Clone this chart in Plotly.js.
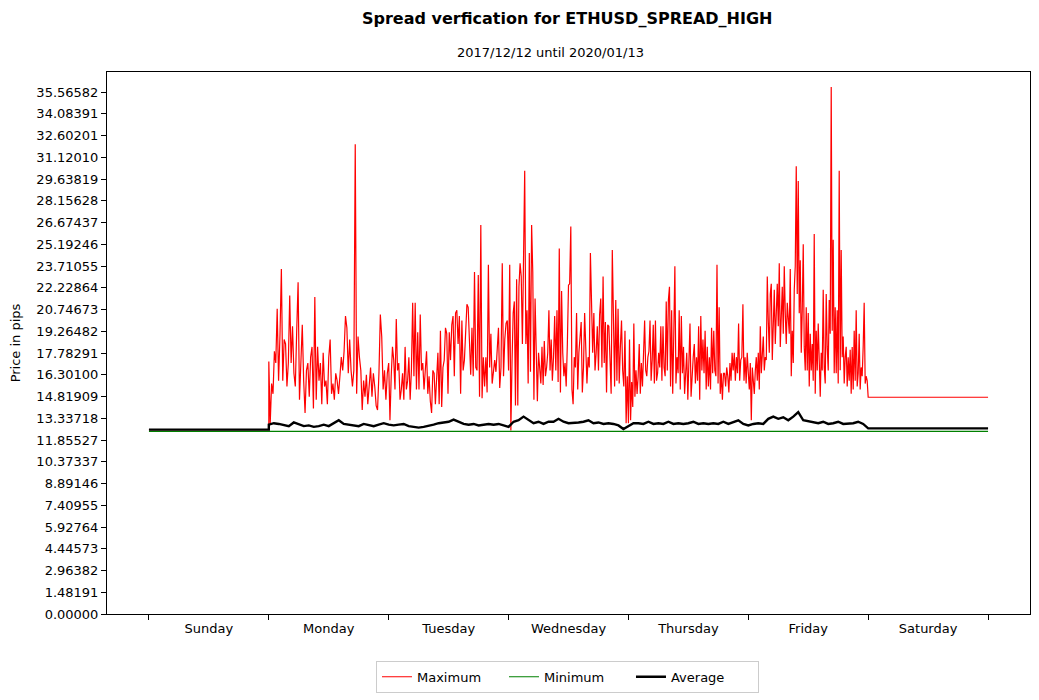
<!DOCTYPE html>
<html>
<head>
<meta charset="utf-8">
<script src="https://cdn.plot.ly/plotly-3.0.1.min.js"></script>
<style>
  body { margin: 0; background: #fff; }
  #spread_plot { width: 1039px; height: 700px; }
</style>
</head>
<body>
<div id="spread_plot"></div>
<script>
// jours de la semaine (axe x en heures, dimanche 0h -> samedi 24h)
let day_names = ['Sunday', 'Monday', 'Tuesday', 'Wednesday', 'Thursday', 'Friday', 'Saturday'];

let y_tick_labels = ['0.00000', '1.48191', '2.96382', '4.44573', '5.92764', '7.40955', '8.89146',
  '10.37337', '11.85527', '13.33718', '14.81909', '16.30100', '17.78291', '19.26482', '20.74673',
  '22.22864', '23.71055', '25.19246', '26.67437', '28.15628', '29.63819', '31.12010', '32.60201',
  '34.08391', '35.56582'];

// week-end : valeurs plates
let sunday_max = 12.56;
let sunday_avg = 12.56;
let saturday_max = 14.77;
let saturday_avg = 12.65;
let minimum_value = 12.45;

// maximum, relevé sur chaque jour ouvré
let max_monday = [17.2, 13.0, 15.7, 15.0, 17.9, 17.1, 20.8, 15.9, 19.0, 23.5,
  15.9, 18.7, 18.4, 15.5, 17.1, 21.7, 17.1, 19.6, 16.4, 15.5,
  19.3, 22.6, 14.6, 17.8, 19.7, 15.9, 13.7, 16.6, 17.1, 14.8,
  17.5, 18.2, 14.0, 21.6, 14.6, 18.2, 15.9, 17.1, 14.3, 17.8,
  15.5, 15.9, 14.3, 17.5, 18.7, 15.0, 15.7, 14.6, 16.4, 15.9,
  15.0, 16.2, 17.5, 16.6, 17.9, 20.3, 19.5, 16.4, 18.7, 16.6,
  15.5, 16.6, 32.0, 15.0, 18.9, 17.5, 16.6, 13.9, 15.9, 14.8,
  16.3, 14.3, 15.9, 16.8, 14.8, 16.4, 15.5, 14.2, 13.9, 16.4,
  20.4, 18.9, 15.3, 16.6, 14.6, 16.4];

let max_tuesday = [17.1, 13.2, 16.2, 18.2, 17.3, 15.3, 20.1, 16.6, 17.1, 14.6, 15.3, 16.4, 14.6, 18.2, 15.3, 15.9,
  17.5, 14.6, 16.6, 21.2, 16.2, 21.2, 15.3, 19.2, 15.3, 20.4,
  16.6, 17.1, 15.3, 16.4, 17.9, 15.0, 16.2, 14.5, 13.7, 16.6,
  16.4, 14.3, 16.4, 17.8, 14.3, 19.3, 14.1, 16.8, 17.3, 19.5,
  19.1, 15.0, 19.2, 17.3, 19.7, 20.3, 16.2, 20.5, 20.7, 18.4,
  20.3, 15.0, 20.0, 16.6, 17.3, 18.9, 21.1, 20.9, 18.4, 16.3,
  19.5, 16.2, 23.3, 16.8, 16.6, 23.1, 14.8, 26.5, 14.7, 17.5,
  15.5, 17.5, 15.1, 23.8, 16.8, 19.1, 15.7, 16.6, 17.3, 16.5,
  18.1, 19.5, 15.4, 16.8, 23.9, 16.2, 18.7, 19.8, 20.0];

let max_wednesday = [16.6, 23.8, 12.5, 17.1, 20.5, 21.3, 14.2, 22.8, 14.2, 22.3,
  23.9, 23.0, 18.4, 24.3, 30.2, 18.4, 20.7, 15.7, 24.6, 16.5,
  26.5, 23.3, 14.6, 21.5, 16.4, 14.5, 17.8, 16.8, 15.7, 18.2,
  15.6, 18.6, 16.2, 16.8, 17.8, 20.7, 16.6, 18.7, 15.9, 17.5,
  20.3, 16.6,
  20.7, 15.8, 24.9, 15.1, 22.0, 17.8, 16.2, 17.1, 15.5, 18.4,
  22.4, 22.5, 26.4, 15.3, 14.3, 17.5, 16.8, 20.5, 15.3, 17.8,
  19.1, 19.9, 15.1, 16.8, 20.5, 17.5, 15.7, 17.5, 16.8, 24.6,
  22.0, 17.8, 20.5, 16.6, 17.8, 19.6, 16.6, 20.4, 21.5, 16.8,
  23.0, 17.1, 19.9, 15.1, 19.7, 19.6, 17.4, 15.0, 24.8, 20.7,
  15.5, 21.4, 15.9, 20.8, 15.7, 18.2, 20.0, 16.6, 15.5, 19.3,
  13.0, 16.2];

let max_thursday = [13.0, 18.7, 13.2, 15.8, 14.1, 19.8, 14.8, 16.6, 15.0, 16.2,
  18.4, 15.0, 17.1, 15.5, 18.4, 20.0, 16.6, 16.2, 17.5, 17.9,
  20.0, 15.9, 17.3, 19.7, 15.7, 20.0, 15.9, 16.4, 17.8, 16.8,
  19.6, 15.9, 19.6, 16.8, 16.2, 21.3, 16.6, 21.4, 22.3, 15.5,
  20.7, 15.0, 19.1, 23.7, 15.7, 17.5, 16.4, 20.7, 15.3, 20.3,
  16.4, 18.2, 15.0, 16.6, 17.8, 14.6, 18.4, 19.8, 14.8, 16.4,
  17.5, 18.4, 15.7, 17.5, 15.9, 19.6, 14.6, 20.3, 16.6, 18.7,
  16.4, 19.3, 15.3,
  18.2, 15.5, 17.5, 15.3, 19.5, 16.4, 19.3, 16.6, 16.2, 23.8,
  15.7, 20.9, 15.0, 16.4, 14.6, 16.4, 16.4, 15.5, 16.8, 16.2,
  15.1, 17.1, 15.9, 17.8, 16.6, 17.8, 15.9, 17.5, 16.4, 19.8,
  15.9, 17.3, 17.5, 21.1, 15.9, 17.5, 15.7, 17.8];

let max_friday = [16.4, 15.3, 17.1, 13.2, 16.8, 15.5, 15.0, 16.6, 17.5, 15.9,
  17.8, 15.3, 19.6, 16.4, 17.8, 18.9, 16.6, 17.5, 17.3, 23.0,
  20.0, 17.8, 21.8, 22.5, 17.3, 20.7, 22.1, 18.4, 21.6, 22.5,
  19.6, 23.9, 18.2, 20.7, 22.3, 19.1, 23.7, 20.5, 18.4, 21.2,
  20.0, 19.1, 23.5, 16.2, 19.3, 17.1, 22.1, 23.7, 30.5, 21.8,
  29.5, 20.5, 24.1, 17.8, 20.7, 25.2, 18.2, 16.6, 20.9, 16.6,
  20.5, 15.5, 19.1, 16.6, 18.4, 15.9, 25.9, 15.0, 19.3, 16.6,
  19.8, 16.4, 14.8, 17.8, 16.6, 22.1, 16.8, 15.7, 21.8, 18.2,
  16.6, 21.4, 19.1, 35.9, 19.3, 25.5, 16.4, 20.9, 16.4, 20.7,
  15.7, 30.2, 16.6, 24.8, 17.5, 18.9, 15.7, 17.5, 18.2, 15.5,
  17.5, 15.9, 18.0, 15.0, 18.2, 15.3, 19.3, 15.9, 20.7, 15.5,
  16.4, 19.1, 15.3, 16.8, 16.2, 18.2, 21.2, 15.7, 16.2, 15.9];

// moyenne, une valeur par heure
let avg_monday = [12.9, 13.0, 12.95, 12.85, 12.8, 13.05, 12.9, 12.8, 12.85, 12.75, 12.8, 12.9,
  12.8, 13.0, 13.2, 12.95, 12.9, 12.85, 12.8, 12.95, 12.85, 12.8, 12.9, 13.0];
let avg_tuesday = [12.9, 12.85, 12.9, 12.95, 12.8, 12.75, 12.7, 12.75, 12.8, 12.9, 13.0, 13.05,
  13.1, 13.25, 13.1, 12.95, 12.9, 12.95, 12.85, 12.9, 12.95, 12.9, 12.95, 12.85];
let avg_wednesday = [12.75, 13.1, 13.2, 13.45, 13.2, 13.0, 13.1, 12.95, 13.1, 13.1, 13.3, 13.1,
  13.0, 13.0, 13.05, 13.1, 13.2, 13.0, 13.05, 12.95, 13.0, 12.95, 12.85, 12.6];
let avg_thursday = [12.8, 13.0, 13.0, 12.95, 13.1, 12.95, 13.0, 12.95, 13.1, 12.95, 13.0, 12.95,
  13.0, 13.1, 12.95, 13.0, 12.95, 13.0, 12.95, 13.1, 12.95, 13.1, 13.2, 12.95];
let avg_friday = [12.85, 12.95, 13.0, 12.95, 13.3, 13.45, 13.3, 13.4, 13.2, 13.45, 13.75, 13.2,
  13.15, 13.1, 13.0, 13.1, 12.95, 13.0, 13.1, 12.95, 12.95, 13.0, 13.1, 12.95];


function run() {
  let weekdays_max = [max_monday, max_tuesday, max_wednesday, max_thursday, max_friday];
  let weekdays_avg = [avg_monday, avg_tuesday, avg_wednesday, avg_thursday, avg_friday];

  let max_x = [0, 24];
  let max_y = [sunday_max, sunday_max];
  weekdays_max.forEach((values, d) => {
    values.forEach((v, i) => {
      max_x.push(24 * (d + 1) + 24 * i / values.length);
      max_y.push(v);
    });
  });
  max_x.push(144, 168);
  max_y.push(saturday_max, saturday_max);

  let avg_x = [0, 24];
  let avg_y = [sunday_avg, sunday_avg];
  weekdays_avg.forEach((values, d) => {
    values.forEach((v, i) => {
      avg_x.push(24 * (d + 1) + 24 * i / values.length);
      avg_y.push(v);
    });
  });
  avg_x.push(144, 168);
  avg_y.push(saturday_avg, saturday_avg);

  let data = [
    { x: max_x, y: max_y, type: 'scatter', mode: 'lines', name: 'Maximum',
      line: { color: '#ff0000', width: 1.2 } },
    { x: [0, 168], y: [minimum_value, minimum_value], type: 'scatter', mode: 'lines', name: 'Minimum',
      line: { color: '#008000', width: 1.2 } },
    { x: avg_x, y: avg_y, type: 'scatter', mode: 'lines', name: 'Average',
      line: { color: '#000000', width: 2.4 } }
  ];

  let font = { family: 'DejaVu Sans, sans-serif', size: 13, color: '#000' };

  let forme = {
    width: 1039,
    height: 700,
    margin: { l: 107, r: 9, t: 72, b: 86, autoexpand: false },
    paper_bgcolor: '#fff',
    plot_bgcolor: '#fff',
    font: font,
    showlegend: true,
    xaxis: {
      range: [-8.4, 176.4],
      tickvals: day_names.map((n, i) => 24 * i + 12),
      ticktext: day_names,
      ticks: 'outside', ticklen: 2, tickcolor: 'rgba(0,0,0,0)',
      minor: { tickvals: day_names.map((n, i) => 24 * i).concat([168]), ticks: 'outside', ticklen: 5, tickcolor: '#000', showgrid: false },
      showline: true, mirror: true, linecolor: '#000', linewidth: 1,
      showgrid: false, zeroline: false, tickfont: font
    },
    yaxis: {
      range: [0, 36.93],
      tickvals: y_tick_labels.map(Number),
      ticktext: y_tick_labels,
      ticks: 'outside', ticklen: 5, tickcolor: '#000',
      showline: true, mirror: true, linecolor: '#000', linewidth: 1,
      showgrid: false, zeroline: false, tickfont: font,
      title: { text: 'Price in pips', font: font, standoff: 12 }
    },
    legend: {
      orientation: 'h', x: 0.4989, xanchor: 'center',
      yref: 'container', y: 0.056, yanchor: 'top',
      bordercolor: '#cccccc', borderwidth: 1, font: font,
      entrywidth: 82, entrywidthmode: 'pixels'
    },
    annotations: [
      { text: '<b>Spread verfication for ETHUSD_SPREAD_HIGH</b>', xref: 'paper', yref: 'paper',
        x: 0.4989, y: 1.0996, xanchor: 'center', yanchor: 'middle', showarrow: false,
        font: { family: 'DejaVu Sans, sans-serif', size: 16, color: '#000' } },
      { text: '2017/12/12 until 2020/01/13', xref: 'paper', yref: 'paper',
        x: 0.4805, y: 1.0369, xanchor: 'center', yanchor: 'middle', showarrow: false,
        font: font }
    ]
  };

  Plotly.newPlot('spread_plot', data, forme, { staticPlot: true });
}

run();
</script>
</body>
</html>
